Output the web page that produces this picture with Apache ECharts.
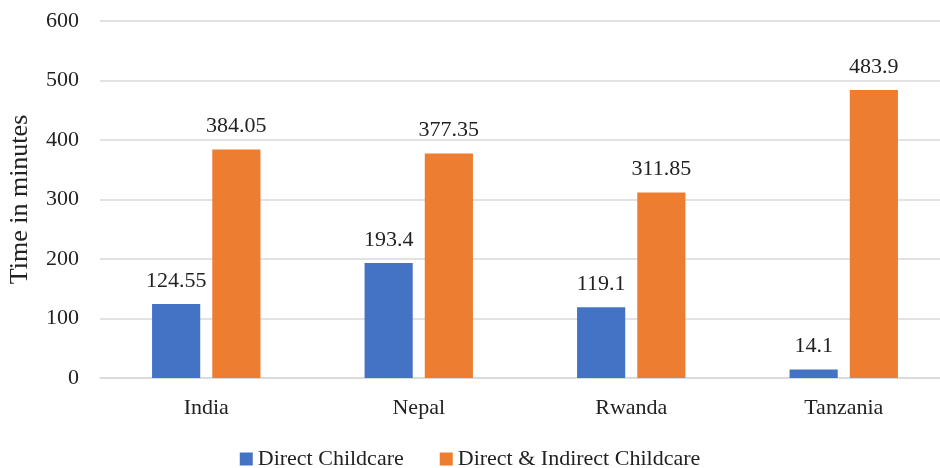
<!DOCTYPE html>
<html><head><meta charset="utf-8">
<script src="https://cdn.jsdelivr.net/npm/echarts@6/dist/echarts.min.js"></script>
<style>html,body{margin:0;padding:0;background:#fff}#c{width:940px;height:468px}</style>
</head><body><div id="c"></div>
<script>
var categories = ['India', 'Nepal', 'Rwanda', 'Tanzania'];
var directChildcare = [124.55, 193.4, 119.1, 14.1];
var directIndirectChildcare = [384.05, 377.35, 311.85, 483.9];
var seriesNames = ['Direct Childcare', 'Direct & Indirect Childcare'];
var yTicks = { min: 0, max: 600, interval: 100 };

var font = 'Liberation Serif';
var chart = echarts.init(document.getElementById('c'));
chart.setOption({
  animation: false,
  textStyle: { fontFamily: font },
  grid: { left: 100, right: -10, top: 21, bottom: 90, containLabel: false, outerBoundsMode: 'none' },
  legend: {
    bottom: -7, left: 'center', itemWidth: 13, itemHeight: 13, itemGap: 36,
    icon: 'rect',
    textStyle: { fontFamily: font, fontSize: 22, color: '#222' },
    data: seriesNames
  },
  xAxis: {
    type: 'category', data: categories,
    axisLine: { lineStyle: { color: '#d9d9d9', width: 1.5 } },
    axisTick: { show: false },
    axisLabel: { fontFamily: font, fontSize: 22, color: '#222', margin: 19 }
  },
  yAxis: {
    type: 'value', min: yTicks.min, max: yTicks.max, interval: yTicks.interval,
    name: 'Time in minutes', nameLocation: 'middle', nameGap: 67,
    nameTextStyle: { fontFamily: font, fontSize: 26, color: '#222' },
    axisLine: { show: false }, axisTick: { show: false },
    axisLabel: { fontFamily: font, fontSize: 22, color: '#222', margin: 21 },
    splitLine: { lineStyle: { color: '#d9d9d9', width: 1.5 } }
  },
  series: [
    { name: seriesNames[0], type: 'bar', data: directChildcare, barGap: '25%', barCategoryGap: '49%',
      itemStyle: { color: '#4472C4' },
      label: { show: true, position: 'top', distance: 12, fontFamily: font, fontSize: 22, color: '#222' } },
    { name: seriesNames[1], type: 'bar', data: directIndirectChildcare,
      itemStyle: { color: '#ED7D31' },
      label: { show: true, position: 'top', distance: 12, fontFamily: font, fontSize: 22, color: '#222' } }
  ]
});
</script></body></html>
